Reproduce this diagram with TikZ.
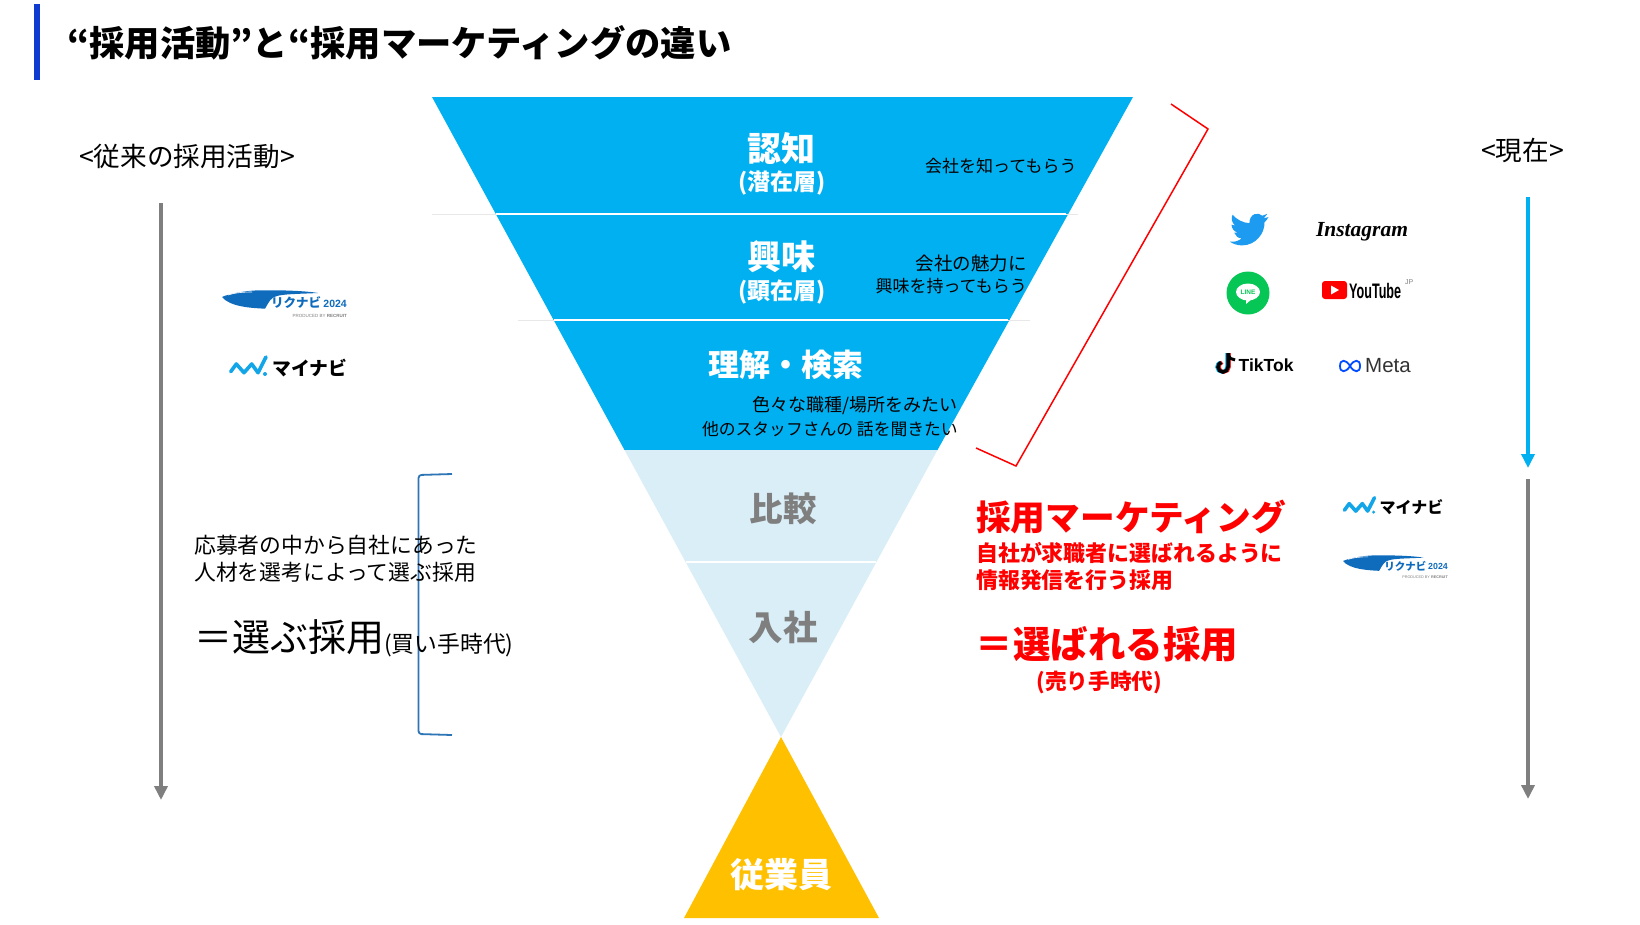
\documentclass[tikz,border=0pt]{standalone}
\usepackage{fontspec}
\setmainfont{Noto Sans CJK JP}
\newfontfamily\latinb{Liberation Sans}
\newfontfamily\latinser{Liberation Serif}
\usetikzlibrary{arrows.meta}
\definecolor{funnelblue}{HTML}{00B0F0}
\definecolor{funnellight}{HTML}{DAEEF8}
\definecolor{staffyellow}{HTML}{FFC000}
\definecolor{titlebar}{HTML}{0F3BD0}
\definecolor{flowgray}{HTML}{7F7F7F}
\definecolor{brackblue}{HTML}{2E75B6}
\definecolor{rikublue}{HTML}{0F6CBD}
\definecolor{mynablue}{HTML}{12A5E8}
\definecolor{linegreen}{HTML}{06C755}
\definecolor{birdblue}{HTML}{1D9BF0}
\newcommand{\fs}[1]{\fontsize{#1}{#1}\selectfont}
\tikzset{
  rikunabi/.pic={
    \fill[rikublue] (0,0) .. controls (6,-3) and (25,-7) .. (41,-6.7) .. controls (60,-7) and (85,-6) .. (96,-4)
      .. controls (75,-3) and (62,-3) .. (55,-1) .. controls (49,0) and (47,5) .. (43,11.7)
      .. controls (30,11) and (8,10) .. (0,0) -- cycle;
    \draw[white,line width=.6pt] (6,-2) .. controls (12,-4) and (20,-5) .. (30,-5);
    \node[anchor=west,inner sep=0pt,text=rikublue,font=\fs{12.5}\bfseries] (-name) at (49,6) {リクナビ};
    \node[anchor=east,inner sep=0pt,text=rikublue,font=\latinb\fs{10.5}\bfseries] (-year) at (125,7) {2024};
    \node[anchor=east,inner sep=0pt,text=gray,font=\latinb\fs{4.5}] (-prod) at (125,19) {PRODUCED BY \textbf{RECRUIT}};
  },
  mynavi/.pic={
    \draw[mynablue,line width=3.6pt,line cap=round,line join=round] (1.7,-3.3) -- (7.3,-11) -- (15,-2.3) -- (22.7,-11) -- (29,-2.3) -- (37,-18);
    \fill[mynablue] (36,-1) circle (2pt);
    \node[anchor=west,inner sep=0pt,font=\fs{18.8}\bfseries] (-name) at (43,-7) {マイナビ};
  }
}
\begin{document}
\begin{tikzpicture}[x=1pt,y=-1pt,
  txt/.style={inner sep=0pt,font=\fs{#1}},
  txtb/.style={inner sep=0pt,font=\fs{#1}\bfseries},
  lft/.style={anchor=west},
  rgt/.style={anchor=east},
  whitelbl/.style={text=white},
  graylbl/.style={text=flowgray},
  redlbl/.style={text=red},
  flow/.style={line width=4pt,-{Triangle[length=14pt,width=13pt]}},
  sep/.style={gray!18,line width=1pt},
  sepin/.style={white,line width=2pt}
]
\useasboundingbox (0,0) rectangle (1640,924);
\fill[white] (0,0) rectangle (1640,924);
\fill[titlebar] (34,4) rectangle (39.5,80);
\node[txtb=35.3,lft] (title) at (67,43) {“採用活動”と“採用マーケティングの違い};

\fill[funnelblue] (432,97) -- (1133,97) -- (937.5,450) -- (624.5,450) -- cycle;
\fill[funnellight] (624.5,450) -- (937.5,450) -- (781,737) -- cycle;
\fill[staffyellow] (781,737) -- (879,918) -- (684,918) -- cycle;
\draw[sep] (432,214) -- (1078,214); \draw[sep] (518,320) -- (1030,320);
\draw[sepin] (496,214) -- (1066,214); \draw[sepin] (554,320) -- (1008,320);
\draw[white,line width=2pt] (686,562) -- (876,562);

\node[txtb=34,whitelbl] (ninchi) at (781,149) {認知};
\node[txtb=23,whitelbl] (senzai) at (782,183.5) {(潜在層)};
\node[txt=17,lft] (ninchitxt) at (925,166) {会社を知ってもらう};
\node[txtb=34,whitelbl] (kyomi) at (781,257) {興味};
\node[txtb=23,whitelbl] (kenzai) at (782,292.5) {(顕在層)};
\node[txt=18.5,rgt] (kyomione) at (1027,263) {会社の魅力に};
\node[txt=17,rgt] (kyomitwo) at (1027,286) {興味を持ってもらう};
\node[txtb=31,whitelbl] (rikai) at (786,365) {理解・検索};
\node[txt=18,rgt] (rikaione) at (958,406) {色々な職種/場所をみたい};
\node[txt=16.8,rgt] (rikaitwo) at (958,429) {他のスタッフさんの 話を聞きたい};
\node[txtb=33.5,graylbl] (hikaku) at (783,509) {比較};
\node[txtb=34.5,graylbl] (nyusha) at (783,627) {入社};
\node[txtb=34,whitelbl] (staff) at (781,875) {従業員};

\node[txt=26.6,lft] (oldhead) at (79,156) {<従来の採用活動>};
\node[txt=26.6,lft] (nowhead) at (1481,150) {<現在>};
\coordinate (oldtop) at (161,203); \coordinate (oldend) at (161,800);
\coordinate (bluetop) at (1528,197); \coordinate (blueend) at (1528,468);
\coordinate (graytop) at (1528,479); \coordinate (grayend) at (1528,799);
\draw[flow,flowgray] (oldtop) -- (oldend);
\draw[flow,funnelblue] (bluetop) -- (blueend);
\draw[flow,flowgray] (graytop) -- (grayend);

\coordinate (bra) at (1171,104); \coordinate (brb) at (1208,129);
\coordinate (brc) at (1016,466); \coordinate (brd) at (976,448);
\draw[red,line width=1.5pt] (bra) -- (brb) -- (brc) -- (brd);
\coordinate (lba) at (452,474); \coordinate (lbb) at (452,735);
\draw[brackblue,line width=1.8pt,rounded corners=3pt] (lba) -- (418.5,475) -- (418.5,734) -- (lbb);

\node[txt=21.8,lft] (oboone) at (194,545) {応募者の中から自社にあった};
\node[txt=21.8,lft] (obotwo) at (194,572.5) {人材を選考によって選ぶ採用};
\node[txt=38,lft] (erabu) at (194,637) {＝選ぶ採用};
\node[txt=22.8,lft] (kaite) at (384,645) {(買い手時代)};

\node[txtb=34.7,lft,redlbl] (saiyo) at (976,517) {採用マーケティング};
\node[txtb=21.9,lft,redlbl] (jisha) at (976,553) {自社が求職者に選ばれるように};
\node[txtb=21.9,lft,redlbl] (joho) at (976,580.5) {情報発信を行う採用};
\node[txtb=37.5,lft,redlbl] (erabareru) at (975.5,644) {＝選ばれる採用};
\node[txtb=21.6,lft,redlbl] (urite) at (1036.5,682) {(売り手時代)};

\pic (rikuold) at (222,297) {rikunabi};
\pic (mynaold) at (229,375) {mynavi};
\pic[scale=.85,transform shape] (mynanew) at (1343,513) {mynavi};
\pic[scale=.84,transform shape] (rikunew) at (1343,561) {rikunabi};

\begin{scope}[shift={(1230,209.5)},x=1.6pt,y=-1.65pt]
\fill[birdblue] (24,4.59) -- (21.13,5.35) -- (23.29,2.62) -- (20.16,3.8) .. controls (18,1.5) and (12.2,2) .. (12.1,8.3)
  .. controls (8,8.1) and (4,6) .. (1.64,3.16) .. controls (0.5,5) and (1,8) .. (3.16,9.73) -- (0.93,9.12) .. controls (1,11.5) and (2.5,13.4) .. (4.88,14)
  -- (2.67,14.09) .. controls (3.3,16) and (5,17.4) .. (7.27,17.5) .. controls (5.5,19) and (3,19.8) .. (0,19.54)
  .. controls (2,21) and (5,21.75) .. (7.56,21.75) .. controls (16,21.75) and (21.8,14.5) .. (21.55,7.77) .. controls (22.5,7) and (23.4,5.8) .. (24,4.59) -- cycle;
\end{scope}
\node[inner sep=0pt,font=\latinser\itshape\bfseries\fs{21.5}] (insta) at (1362,232) {Instagram};
\node[circle,fill=linegreen,minimum size=43pt,inner sep=0pt] (line) at (1248,293) {};
\fill[white] (1248,292) ellipse (12pt and 8.5pt); \fill[white] (1246,299) -- (1252,299) -- (1246,304) -- cycle;
\node[inner sep=0pt,text=linegreen,font=\latinb\fs{6.5}\bfseries] (linetxt) at (1248,292) {LINE};
\node[fill=red,rounded corners=3pt,minimum width=25pt,minimum height=18pt,inner sep=0pt] (ytbox) at (1334.5,290) {};
\fill[white] (1331,285.5) -- (1339,290) -- (1331,294.5) -- cycle;
\node[lft,inner sep=0pt,font=\latinb\fs{21}\bfseries,xscale=.6] (yttxt) at (1349,290.5) {YouTube};
\node[lft,inner sep=0pt,text=gray,font=\latinb\fs{7}] (ytjp) at (1405,282) {JP};
\draw[cyan,line width=3.5pt,xshift=-1pt] (1228,353) -- (1228,367) arc[start angle=0,end angle=-250,radius=5pt];
\draw[red!80!pink,line width=3.5pt,xshift=1pt] (1228,353) -- (1228,367) arc[start angle=0,end angle=-250,radius=5pt];
\draw[black,line width=3.5pt] (1228,353) -- (1228,367) arc[start angle=0,end angle=-250,radius=5pt];
\draw[black,line width=3pt] (1228,354) .. controls (1229,358) and (1232,360) .. (1235,360);
\node[lft,inner sep=0pt,font=\latinb\fs{17.5}\bfseries] (tiktok) at (1238.5,365) {TikTok};
\draw[blue!70!cyan,line width=1.8pt] (1350,366) .. controls (1346,359) and (1340,359) .. (1340,366) .. controls (1340,373) and (1346,373) .. (1350,366) .. controls (1354,359) and (1360,359) .. (1360,366) .. controls (1360,373) and (1354,373) .. (1350,366);
\node[lft,inner sep=0pt,text=black!80,font=\latinb\fs{20.5}] (meta) at (1365,366) {Meta};
\end{tikzpicture}
\end{document}
